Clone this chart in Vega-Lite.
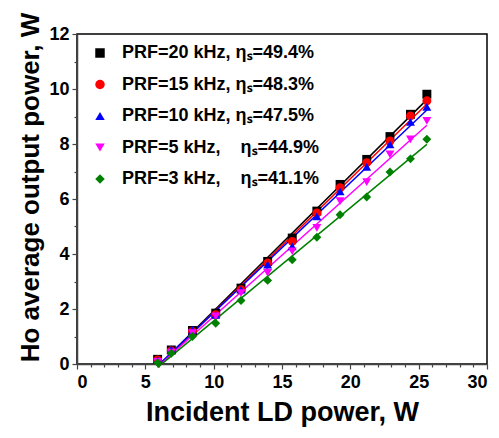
{
  "$schema": "https://vega.github.io/schema/vega-lite/v6.json",
  "width": 410,
  "height": 330,
  "autosize": {"type": "none"},
  "padding": {"left": 77, "top": 34, "right": 12, "bottom": 74},
  "background": "white",
  "config": {
    "font": "Liberation Sans",
    "view": {"stroke": "black", "strokeWidth": 1.5},
    "axis": {"grid": false, "domainColor": "#444444", "domainWidth": 1.5, "tickColor": "#444444", "tickWidth": 1.2, "tickSize": 5, "labelFont": "Liberation Sans", "labelFontWeight": "bold", "labelFontSize": 18, "labelColor": "black", "titleFont": "Liberation Sans", "titleFontWeight": "bold", "titleColor": "black"},
    "legend": {"orient": "none", "legendX": 14, "legendY": 10, "labelFont": "Liberation Sans", "labelFontSize": 18, "labelFontWeight": "bold", "labelColor": "black", "labelLimit": 0, "labelOffset": 13, "rowPadding": 13.5, "symbolSize": 90, "symbolStrokeWidth": 0, "padding": 0}
  },
  "data": {"values": [
    {"s": "PRF=20 kHz, ηₛ=49.4%", "x": 5.9, "y": 0.17},
    {"s": "PRF=20 kHz, ηₛ=49.4%", "x": 6.9, "y": 0.51},
    {"s": "PRF=20 kHz, ηₛ=49.4%", "x": 8.45, "y": 1.22},
    {"s": "PRF=20 kHz, ηₛ=49.4%", "x": 10.15, "y": 1.85},
    {"s": "PRF=20 kHz, ηₛ=49.4%", "x": 12.0, "y": 2.76},
    {"s": "PRF=20 kHz, ηₛ=49.4%", "x": 13.95, "y": 3.73},
    {"s": "PRF=20 kHz, ηₛ=49.4%", "x": 15.75, "y": 4.58},
    {"s": "PRF=20 kHz, ηₛ=49.4%", "x": 17.55, "y": 5.56},
    {"s": "PRF=20 kHz, ηₛ=49.4%", "x": 19.25, "y": 6.53},
    {"s": "PRF=20 kHz, ηₛ=49.4%", "x": 21.2, "y": 7.44},
    {"s": "PRF=20 kHz, ηₛ=49.4%", "x": 22.9, "y": 8.27},
    {"s": "PRF=20 kHz, ηₛ=49.4%", "x": 24.4, "y": 9.08},
    {"s": "PRF=20 kHz, ηₛ=49.4%", "x": 25.6, "y": 9.81},
    {"s": "PRF=15 kHz, ηₛ=48.3%", "x": 5.9, "y": 0.15},
    {"s": "PRF=15 kHz, ηₛ=48.3%", "x": 6.9, "y": 0.48},
    {"s": "PRF=15 kHz, ηₛ=48.3%", "x": 8.45, "y": 1.18},
    {"s": "PRF=15 kHz, ηₛ=48.3%", "x": 10.15, "y": 1.79},
    {"s": "PRF=15 kHz, ηₛ=48.3%", "x": 12.0, "y": 2.7},
    {"s": "PRF=15 kHz, ηₛ=48.3%", "x": 13.95, "y": 3.67},
    {"s": "PRF=15 kHz, ηₛ=48.3%", "x": 15.75, "y": 4.46},
    {"s": "PRF=15 kHz, ηₛ=48.3%", "x": 17.55, "y": 5.49},
    {"s": "PRF=15 kHz, ηₛ=48.3%", "x": 19.25, "y": 6.41},
    {"s": "PRF=15 kHz, ηₛ=48.3%", "x": 21.2, "y": 7.32},
    {"s": "PRF=15 kHz, ηₛ=48.3%", "x": 22.9, "y": 8.11},
    {"s": "PRF=15 kHz, ηₛ=48.3%", "x": 24.4, "y": 9.02},
    {"s": "PRF=15 kHz, ηₛ=48.3%", "x": 25.6, "y": 9.57},
    {"s": "PRF=10 kHz, ηₛ=47.5%", "x": 5.9, "y": 0.15},
    {"s": "PRF=10 kHz, ηₛ=47.5%", "x": 6.9, "y": 0.53},
    {"s": "PRF=10 kHz, ηₛ=47.5%", "x": 8.45, "y": 1.24},
    {"s": "PRF=10 kHz, ηₛ=47.5%", "x": 10.15, "y": 1.79},
    {"s": "PRF=10 kHz, ηₛ=47.5%", "x": 12.0, "y": 2.7},
    {"s": "PRF=10 kHz, ηₛ=47.5%", "x": 13.95, "y": 3.61},
    {"s": "PRF=10 kHz, ηₛ=47.5%", "x": 15.75, "y": 4.28},
    {"s": "PRF=10 kHz, ηₛ=47.5%", "x": 17.55, "y": 5.37},
    {"s": "PRF=10 kHz, ηₛ=47.5%", "x": 19.25, "y": 6.28},
    {"s": "PRF=10 kHz, ηₛ=47.5%", "x": 21.2, "y": 7.17},
    {"s": "PRF=10 kHz, ηₛ=47.5%", "x": 22.9, "y": 7.99},
    {"s": "PRF=10 kHz, ηₛ=47.5%", "x": 24.4, "y": 8.8},
    {"s": "PRF=10 kHz, ηₛ=47.5%", "x": 25.6, "y": 9.35},
    {"s": "PRF=5 kHz,\u00a0\u00a0\u00a0\u00a0ηₛ=44.9%", "x": 5.9, "y": 0.08},
    {"s": "PRF=5 kHz,\u00a0\u00a0\u00a0\u00a0ηₛ=44.9%", "x": 6.9, "y": 0.41},
    {"s": "PRF=5 kHz,\u00a0\u00a0\u00a0\u00a0ηₛ=44.9%", "x": 8.45, "y": 1.12},
    {"s": "PRF=5 kHz,\u00a0\u00a0\u00a0\u00a0ηₛ=44.9%", "x": 10.15, "y": 1.73},
    {"s": "PRF=5 kHz,\u00a0\u00a0\u00a0\u00a0ηₛ=44.9%", "x": 12.0, "y": 2.58},
    {"s": "PRF=5 kHz,\u00a0\u00a0\u00a0\u00a0ηₛ=44.9%", "x": 13.95, "y": 3.31},
    {"s": "PRF=5 kHz,\u00a0\u00a0\u00a0\u00a0ηₛ=44.9%", "x": 15.75, "y": 4.1},
    {"s": "PRF=5 kHz,\u00a0\u00a0\u00a0\u00a0ηₛ=44.9%", "x": 17.55, "y": 4.95},
    {"s": "PRF=5 kHz,\u00a0\u00a0\u00a0\u00a0ηₛ=44.9%", "x": 19.25, "y": 5.92},
    {"s": "PRF=5 kHz,\u00a0\u00a0\u00a0\u00a0ηₛ=44.9%", "x": 21.2, "y": 6.61},
    {"s": "PRF=5 kHz,\u00a0\u00a0\u00a0\u00a0ηₛ=44.9%", "x": 22.9, "y": 7.62},
    {"s": "PRF=5 kHz,\u00a0\u00a0\u00a0\u00a0ηₛ=44.9%", "x": 24.4, "y": 8.17},
    {"s": "PRF=5 kHz,\u00a0\u00a0\u00a0\u00a0ηₛ=44.9%", "x": 25.6, "y": 8.84},
    {"s": "PRF=3 kHz,\u00a0\u00a0\u00a0\u00a0ηₛ=41.1%", "x": 5.9, "y": 0.05},
    {"s": "PRF=3 kHz,\u00a0\u00a0\u00a0\u00a0ηₛ=41.1%", "x": 6.9, "y": 0.39},
    {"s": "PRF=3 kHz,\u00a0\u00a0\u00a0\u00a0ηₛ=41.1%", "x": 8.45, "y": 1.0},
    {"s": "PRF=3 kHz,\u00a0\u00a0\u00a0\u00a0ηₛ=41.1%", "x": 10.15, "y": 1.48},
    {"s": "PRF=3 kHz,\u00a0\u00a0\u00a0\u00a0ηₛ=41.1%", "x": 12.0, "y": 2.31},
    {"s": "PRF=3 kHz,\u00a0\u00a0\u00a0\u00a0ηₛ=41.1%", "x": 13.95, "y": 3.04},
    {"s": "PRF=3 kHz,\u00a0\u00a0\u00a0\u00a0ηₛ=41.1%", "x": 15.75, "y": 3.79},
    {"s": "PRF=3 kHz,\u00a0\u00a0\u00a0\u00a0ηₛ=41.1%", "x": 17.55, "y": 4.61},
    {"s": "PRF=3 kHz,\u00a0\u00a0\u00a0\u00a0ηₛ=41.1%", "x": 19.25, "y": 5.43},
    {"s": "PRF=3 kHz,\u00a0\u00a0\u00a0\u00a0ηₛ=41.1%", "x": 21.2, "y": 6.07},
    {"s": "PRF=3 kHz,\u00a0\u00a0\u00a0\u00a0ηₛ=41.1%", "x": 22.9, "y": 6.98},
    {"s": "PRF=3 kHz,\u00a0\u00a0\u00a0\u00a0ηₛ=41.1%", "x": 24.4, "y": 7.46},
    {"s": "PRF=3 kHz,\u00a0\u00a0\u00a0\u00a0ηₛ=41.1%", "x": 25.6, "y": 8.17}
  ]},
  "resolve": {"axis": {"x": "independent", "y": "independent"}},
  "layer": [
    {
      "transform": [{"regression": "y", "on": "x", "groupby": ["s"]}],
      "mark": {"type": "line", "strokeWidth": 1.5},
      "encoding": {
        "x": {"field": "x", "type": "quantitative", "scale": {"domain": [0, 30], "nice": false}, "axis": {"orient": "bottom", "values": [1, 2, 3, 4, 6, 7, 8, 9, 11, 12, 13, 14, 16, 17, 18, 19, 21, 22, 23, 24, 26, 27, 28, 29], "labels": false, "title": null, "domain": false, "tickSize": 3}},
        "y": {"field": "y", "type": "quantitative", "scale": {"domain": [0, 12], "nice": false}, "axis": {"orient": "left", "values": [1, 3, 5, 7, 9, 11], "labels": false, "title": null, "domain": false, "tickSize": 3}},
        "color": {"field": "s", "type": "nominal", "title": null, "scale": {"domain": ["PRF=20 kHz, ηₛ=49.4%", "PRF=15 kHz, ηₛ=48.3%", "PRF=10 kHz, ηₛ=47.5%", "PRF=5 kHz,\u00a0\u00a0\u00a0\u00a0ηₛ=44.9%", "PRF=3 kHz,\u00a0\u00a0\u00a0\u00a0ηₛ=41.1%"], "range": ["#000000", "#ff0000", "#0000ff", "#ff00ff", "#008000"]}}
      }
    },
    {
      "mark": {"type": "point", "filled": true, "opacity": 1, "size": 80},
      "encoding": {
        "x": {"field": "x", "type": "quantitative", "scale": {"domain": [0, 30], "nice": false}, "axis": {"orient": "bottom", "values": [0, 5, 10, 15, 20, 25, 30], "title": "Incident LD power, W", "titleFontSize": 27, "labelPadding": 4, "titlePadding": 8}},
        "y": {"field": "y", "type": "quantitative", "scale": {"domain": [0, 12], "nice": false}, "axis": {"orient": "left", "values": [0, 2, 4, 6, 8, 10, 12], "title": "Ho average output power, W", "titleFontSize": 26, "labelPadding": 3, "titlePadding": 5, "titleY": 153}},
        "color": {"field": "s", "type": "nominal", "title": null, "scale": {"domain": ["PRF=20 kHz, ηₛ=49.4%", "PRF=15 kHz, ηₛ=48.3%", "PRF=10 kHz, ηₛ=47.5%", "PRF=5 kHz,\u00a0\u00a0\u00a0\u00a0ηₛ=44.9%", "PRF=3 kHz,\u00a0\u00a0\u00a0\u00a0ηₛ=41.1%"], "range": ["#000000", "#ff0000", "#0000ff", "#ff00ff", "#008000"]}},
        "shape": {"field": "s", "type": "nominal", "title": null, "scale": {"domain": ["PRF=20 kHz, ηₛ=49.4%", "PRF=15 kHz, ηₛ=48.3%", "PRF=10 kHz, ηₛ=47.5%", "PRF=5 kHz,\u00a0\u00a0\u00a0\u00a0ηₛ=44.9%", "PRF=3 kHz,\u00a0\u00a0\u00a0\u00a0ηₛ=41.1%"], "range": ["square", "circle", "triangle-up", "triangle-down", "diamond"]}}
      }
    }
  ]
}
